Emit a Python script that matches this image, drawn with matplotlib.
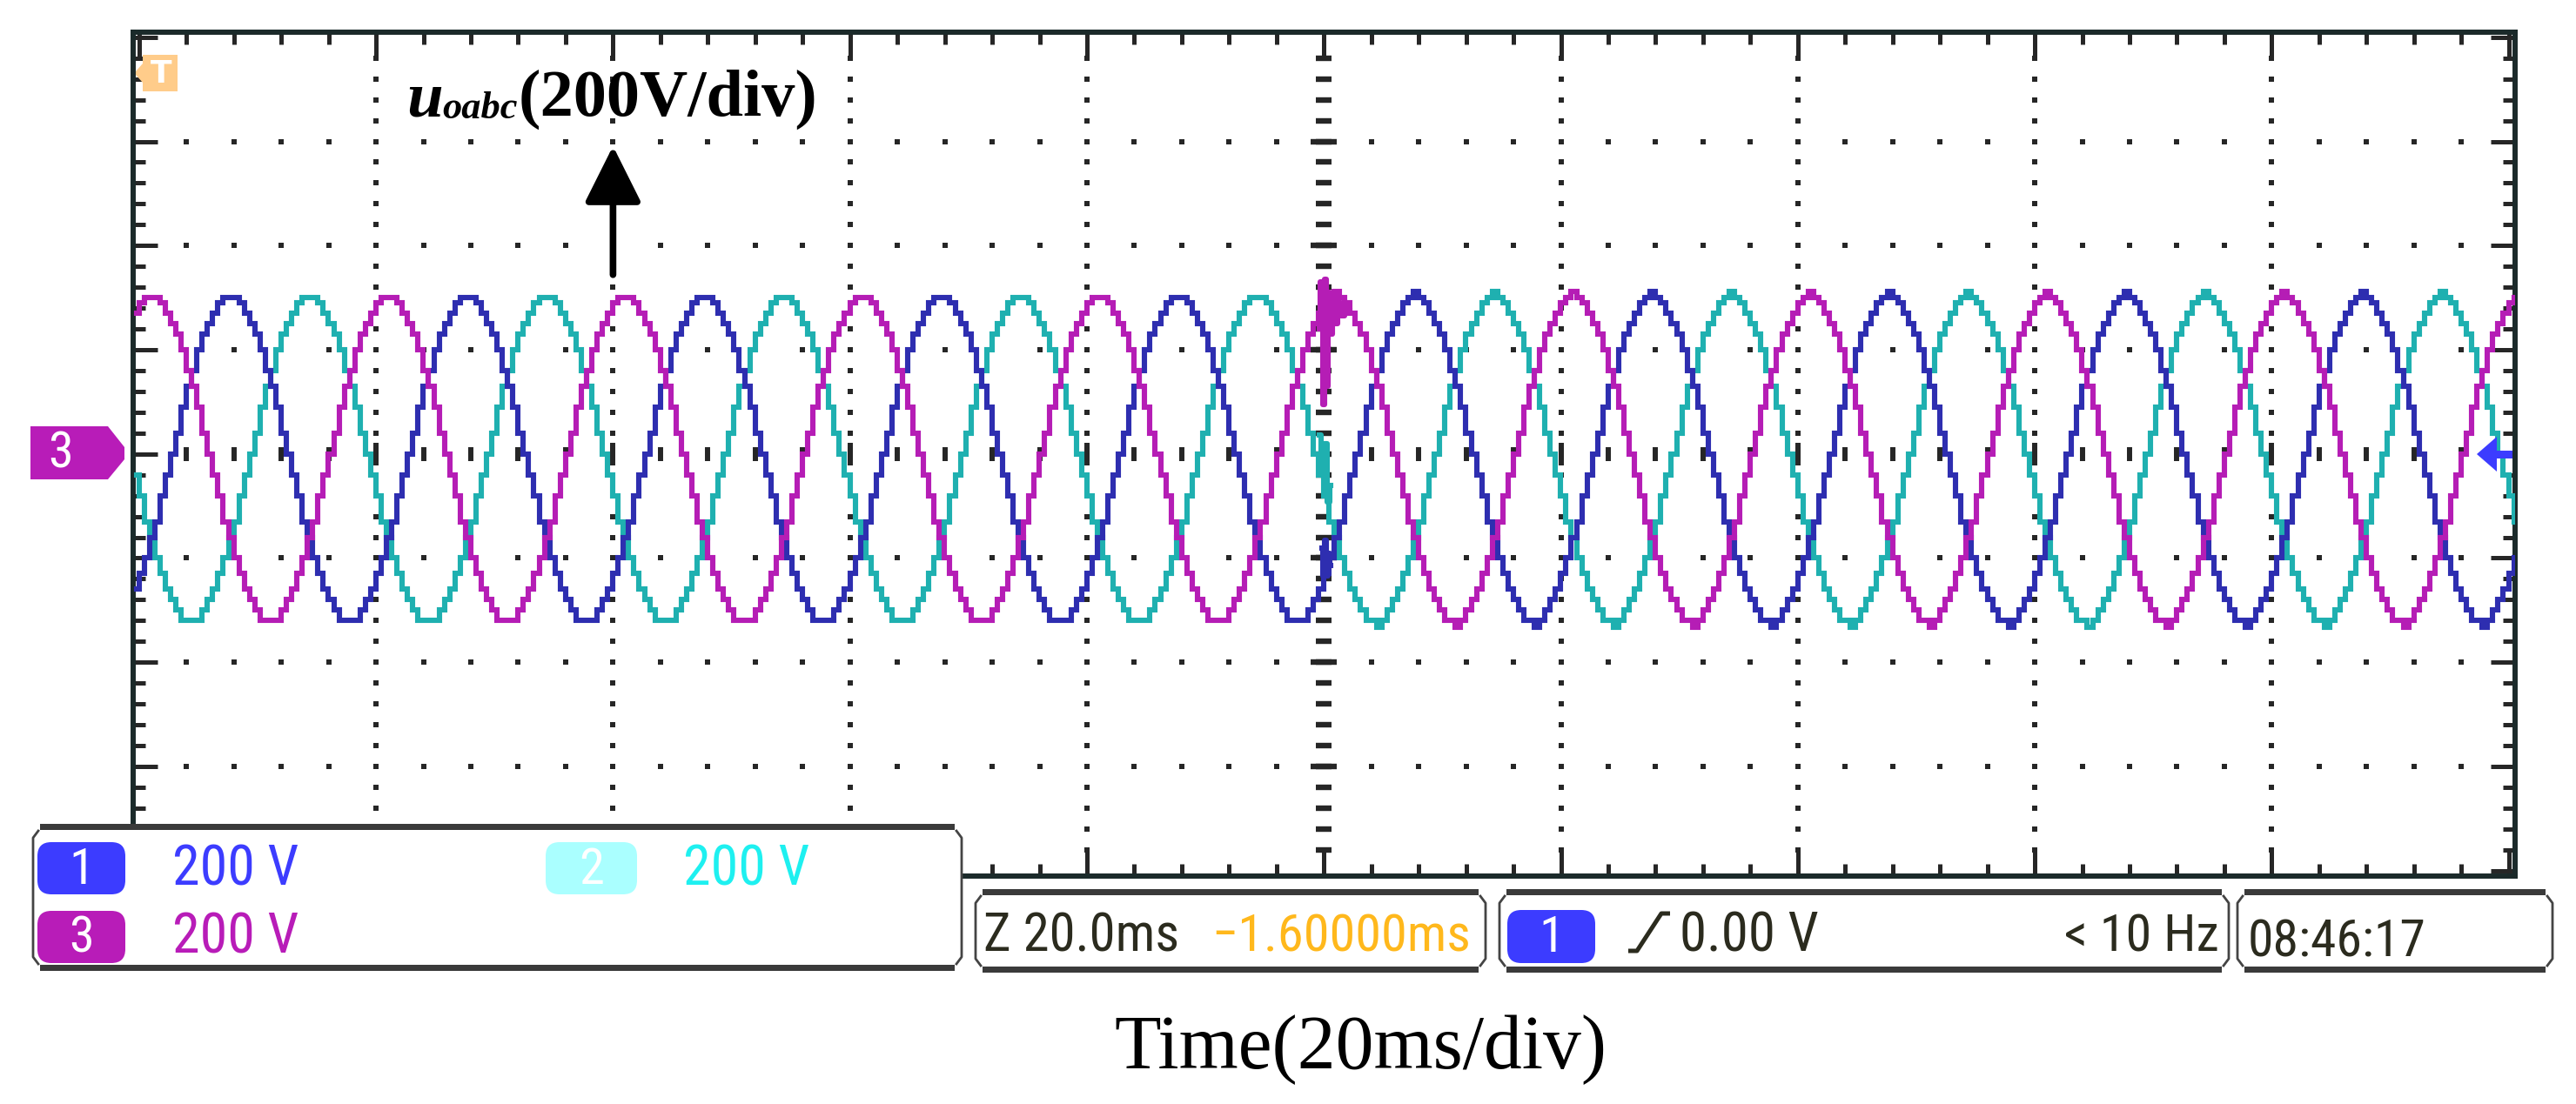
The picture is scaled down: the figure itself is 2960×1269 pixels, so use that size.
import numpy as np
import matplotlib
matplotlib.use("Agg")
import matplotlib.pyplot as plt
import matplotlib.font_manager as fm
from matplotlib.ticker import MultipleLocator
from matplotlib.patches import Polygon, FancyBboxPatch, Rectangle

# ---- values (200 V/div, 20 ms/div) ----
# one 20 ms cycle of the stepped output voltage, 45 screen samples, volts
cycle_before = [300, 300, 290, 270, 250, 230, 200, 160, 130, 90,
                40, 0, -40, -80, -130, -160, -200, -230, -260, -280,
                -300, -320, -320, -320, -320, -300, -280, -260, -230, -200,
                -160, -130, -80, -40, 0, 40, 90, 130, 160, 200,
                230, 250, 270, 290, 300]
# after the step change at t = 0 the tops/bottoms show a one-pixel spike
cycle_after = [312, 300, 290, 270, 250, 230, 200, 160, 130, 90,
               40, 0, -40, -80, -130, -160, -200, -230, -260, -280,
               -300, -320, -320, -332, -320, -300, -280, -260, -230, -200,
               -160, -130, -80, -40, 0, 40, 90, 130, 160, 200,
               230, 250, 270, 290, 300]
sample_ms = 20.0 / 45
first_peak_ms = -98.9          # first positive peak of CH3
channels = ["CH2", "CH1", "CH3"]
lag_samples = [30, 15, 0]      # lag behind CH3, in samples (1/3 period steps)
colors = ["#1fb0b0", "#2e2eb0", "#b51db5"]

# disturbance at the trigger point (t = 0)
burst_ms = [-0.4, -0.2, 0.0, 0.15, 0.3, 0.45, 0.6, 0.8, 1.0, 1.3, 1.6, 1.9, 2.2]
burst_v = [240, 330, 95, 335, 130, 310, 230, 295, 250, 290, 265, 290, 275]
burst_b_ms = [-0.2, 0.0, 0.15, 0.3, 0.45, 0.6]
burst_b_v = [-180, -235, -165, -235, -190, -215]
burst_c_ms = [-0.4, -0.1, 0.15, 0.4, 0.6]
burst_c_v = [36, -40, 20, -92, -60]

W, H = 2960, 1269
fig = plt.figure(figsize=(W / 100, H / 100), dpi=100)
fig.patch.set_facecolor("white")

# plot area in pixels: x 153..2889.5, y 36.5..1007
ax = fig.add_axes([153 / W, (H - 1007) / H, (2889.5 - 153) / W, (1007 - 36.5) / H])
ax.set_xlim(-100.5, 100.5)
ax.set_ylim(-810.5, 810.5)

for s in ax.spines.values():
    s.set_linewidth(4.3)
    s.set_color("#1b2a2a")
ax.xaxis.set_major_locator(MultipleLocator(20))
ax.xaxis.set_minor_locator(MultipleLocator(4))
ax.yaxis.set_major_locator(MultipleLocator(200))
ax.yaxis.set_minor_locator(MultipleLocator(40))
ax.tick_params(which="both", direction="in", top=True, right=True,
               labelbottom=False, labelleft=False, color="#262626", width=3.6)
ax.tick_params(which="major", length=20)
ax.tick_params(which="minor", length=10)

# dotted graticule
gx = [-80, -60, -40, -20, 20, 40, 60, 80]
gy = [-600, -400, -200, 200, 400, 600]
dots_y = np.arange(-760, 761, 40)
dots_x = np.arange(-96, 97, 4)
for x in gx:
    ax.plot(np.full(dots_y.size, x), dots_y, ls="none", marker="s", ms=4.2,
            mew=0, color="#262626", zorder=2)
for y in gy:
    ax.plot(dots_x, np.full(dots_x.size, y), ls="none", marker="s", ms=4.2,
            mew=0, color="#262626", zorder=2)
# centre cross with tick dashes
ax.plot(np.zeros(dots_y.size), dots_y, ls="none", marker="_", ms=13, mew=4.6,
        color="#262626", zorder=2)
ax.plot(np.zeros(len(gy)), gy, ls="none", marker="_", ms=21, mew=4.6,
        color="#262626", zorder=2)
ax.plot(dots_x, np.zeros(dots_x.size), ls="none", marker="|", ms=12, mew=4.3,
        color="#262626", zorder=2)
ax.plot(gx, np.zeros(len(gx)), ls="none", marker="|", ms=19, mew=4.3,
        color="#262626", zorder=2)

# traces
k = np.arange(-3, 465)
t = first_peak_ms + k * sample_ms
pre = np.array(cycle_before)
post = np.array(cycle_after)
for name, lag, c in zip(channels, lag_samples, colors):
    idx = (k - lag) % len(pre)
    v = np.where(t < 0.3, pre[idx], post[idx])
    ax.plot(t, v, drawstyle="steps-mid", color=c, lw=4.4, zorder=3,
            solid_joinstyle="miter")
ax.plot(burst_c_ms, burst_c_v, drawstyle="steps-mid", color=colors[0], lw=4.4, zorder=3)
ax.plot(burst_b_ms, burst_b_v, drawstyle="steps-mid", color=colors[1], lw=4.4, zorder=3)
ax.plot(burst_ms, burst_v, drawstyle="steps-mid", color=colors[2], lw=4.4, zorder=4)

ax.annotate("", xy=(-60, 591), xytext=(-60, 344),
            arrowprops=dict(arrowstyle="-|>,head_length=0.4,head_width=0.2",
                            mutation_scale=100, lw=5.5, color="black",
                            shrinkA=0, shrinkB=0, capstyle="round"),
            zorder=5)

# ---- overlay in pixel coordinates for the scope readouts ----
ov = fig.add_axes([0, 0, 1, 1])
ov.set_xlim(0, W)
ov.set_ylim(H, 0)
ov.axis("off")
r = fig.canvas.get_renderer()


def pick_narrow():
    fonts = fm.fontManager.ttflist
    names = {f.name for f in fonts}
    for n in ("Liberation Sans Narrow", "Roboto Condensed", "Open Sans Condensed",
              "Noto Sans Condensed", "DejaVu Sans Condensed"):
        if n in names:
            return n, "normal"
    for n in ("Noto Sans", "Open Sans", "Roboto", "DejaVu Sans"):
        for f in fonts:
            if f.name == n and str(f.stretch) in ("condensed", "semi-condensed",
                                                  "extra-condensed"):
                return n, "condensed"
    for n in ("Liberation Sans", "Roboto"):
        if n in names:
            return n, "normal"
    return "DejaVu Sans", "normal"


NARROW, STRETCH = pick_narrow()


def stext(x, y, s, color, width, size=47):
    tx = ov.text(x, y, s, color=color, fontsize=size, family=NARROW,
                 fontstretch=STRETCH, va="baseline", ha="left", zorder=6)
    w = tx.get_window_extent(renderer=r).width
    if w > width:
        tx.set_fontsize(size * width / w)
    return tx


def scope_box(x0, x1, y0, y1):
    ov.add_patch(Rectangle((x0, y0), x1 - x0, y1 - y0, fc="white", ec="none", zorder=1))
    ov.add_patch(Rectangle((x0 + 8, y0), x1 - x0 - 16, 7, fc="#3a3a3a", ec="none", zorder=2))
    ov.add_patch(Rectangle((x0 + 8, y1 - 7), x1 - x0 - 16, 7, fc="#3a3a3a", ec="none", zorder=2))
    ov.plot([x0 + 6, x0, x0, x0 + 6], [y0 + 8, y0 + 16, y1 - 16, y1 - 8],
            color="#444444", lw=2, zorder=2)
    ov.plot([x1 - 6, x1, x1, x1 - 6], [y0 + 8, y0 + 16, y1 - 16, y1 - 8],
            color="#444444", lw=2, zorder=2)


def badge(x0, x1, y0, y1, fc, label):
    ov.add_patch(FancyBboxPatch((x0, y0), x1 - x0, y1 - y0,
                                boxstyle="round,pad=0,rounding_size=16",
                                fc=fc, ec="none", zorder=3))
    ov.text((x0 + x1) / 2, (y0 + y1) / 2 + 2, label, color="white", ha="center",
            va="center", fontsize=42, family=NARROW, fontstretch=STRETCH, zorder=4)


# channel settings box
scope_box(38, 1105, 947, 1116)
badge(43, 144, 968, 1028, "#3c3cff", "1")
badge(627, 732, 968, 1028, "#aaffff", "2")
badge(43, 144, 1047, 1107, "#b81cb8", "3")
stext(198, 1017, "200 V", "#3c3cff", 145)
stext(785, 1017, "200 V", "#1ef0f0", 145)
stext(198, 1095, "200 V", "#b81cb8", 145)

# timebase / trigger / clock boxes
scope_box(1121, 1707, 1022, 1118)
scope_box(1723, 2561, 1022, 1118)
scope_box(2571, 2933, 1022, 1118)
stext(1130, 1094, "Z 20.0ms", "#2b2b1e", 225)
stext(1392, 1094, "\u22121.60000ms", "#ffb81c", 298)
badge(1732, 1833, 1046, 1107, "#3c3cff", "1")
ov.plot([1871, 1881, 1909, 1919], [1093, 1093, 1050, 1050], color="#2b2b1e",
        lw=3.6, zorder=6, solid_capstyle="butt")
stext(1930, 1094, "0.00 V", "#2b2b1e", 160)
stext(2372, 1094, "< 10 Hz", "#2b2b1e", 178)
stext(2583, 1100, "08:46:17", "#2b2b1e", 205)

# trigger-position marker, channel-3 ground marker, trigger-level marker
ov.add_patch(Polygon([(164, 63), (204, 63), (204, 105), (164, 105), (164, 95),
                      (156, 86), (156, 82), (164, 73)], closed=True,
                     fc="#ffcc8a", ec="none", zorder=3))
ov.text(185, 85, "T", color="white", ha="center", va="center", fontsize=26,
        weight="bold", family="DejaVu Sans", zorder=4)
ov.add_patch(Polygon([(35, 490), (124, 490), (143, 514), (143, 528), (124, 551),
                      (35, 551)], closed=True, fc="#b81cb8", ec="none", zorder=3))
ov.text(70, 522, "3", color="white", ha="center", va="center", fontsize=42,
        family=NARROW, fontstretch=STRETCH, zorder=4)
ov.add_patch(Polygon([(2846, 522), (2869, 502), (2869, 518), (2887, 518),
                      (2887, 527), (2869, 527), (2869, 542)], closed=True,
                     fc="#3c3cff", ec="none", zorder=3))

# annotation text: u_oabc(200V/div)
x = 467
for s, size, style, dy in [("u", 54, "italic", 0), ("oabc", 32, "italic", 3),
                           ("(200V/div)", 55, "normal", 0)]:
    tx = ov.text(x, 133 + dy, s, fontsize=size, family="Liberation Serif",
                 style=style, weight="bold", va="baseline", ha="left", zorder=6)
    x += tx.get_window_extent(renderer=r).width

ov.text(1563, 1228, "Time(20ms/div)", fontsize=63, family="Liberation Serif",
        ha="center", va="baseline", color="black")

fig.savefig("out.png", dpi=100, facecolor="white")
